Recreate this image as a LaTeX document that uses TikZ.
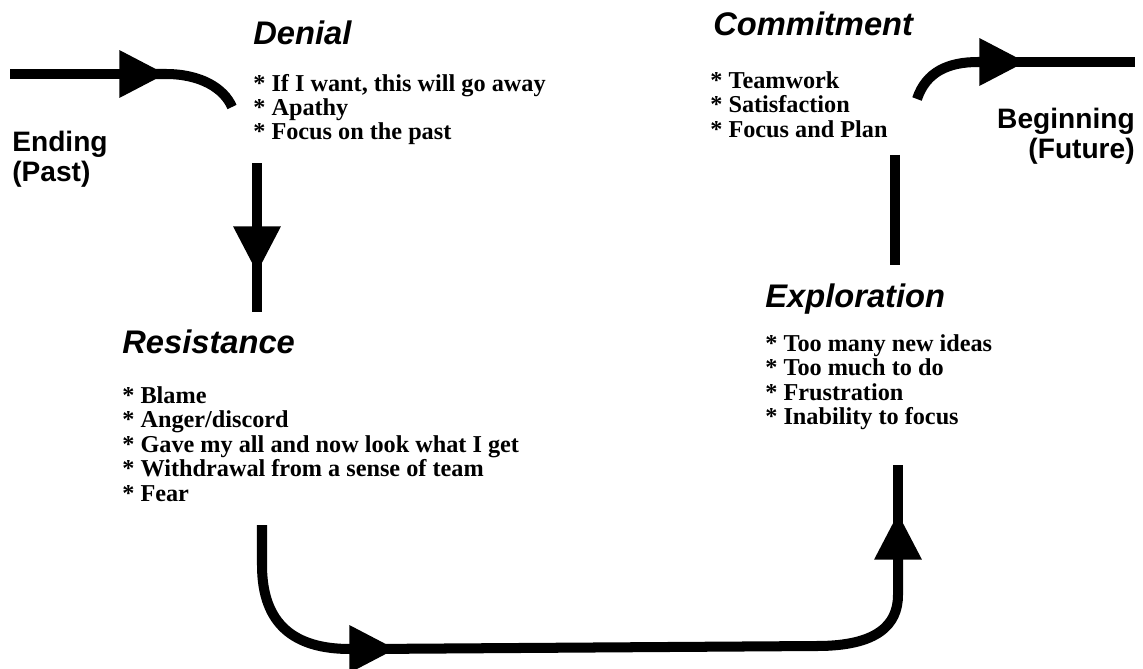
\documentclass[tikz,border=0pt]{standalone}
\usepackage{fontspec}
\setmainfont{Liberation Serif}
\setsansfont{Liberation Sans}
\usetikzlibrary{arrows.meta}

\begin{document}
\begin{tikzpicture}[x=0.02cm, y=-0.02cm]

\tikzset{stage/.style = {font=\sffamily\bfseries\itshape\fontsize{18.6}{20}\selectfont, anchor=base west, inner sep=0}}
\tikzset{items/.style = {font=\bfseries\fontsize{13.8}{14}\selectfont, align=left, anchor=north west, inner sep=0}}
\tikzset{time/.style = {font=\sffamily\bfseries\fontsize{16}{17}\selectfont, inner sep=0}}
\tikzset{flow/.style = {line width=5.7pt}}
\tikzset{pointed/.style = {flow, -{Triangle[length=26.5pt, width=25.5pt]}}}
\useasboundingbox (0,0) rectangle (1143,669);
%labels
\node[time, align=left, anchor=north west] (past) at (12,131) {Ending\\(Past)};
\node[time, align=right, anchor=north east] (future) at (1135,108) {Beginning\\(Future)};
\node[stage] (denial) at (253,45) {Denial};
\node[items, font=\bfseries\fontsize{13.8}{12.4}\selectfont] (denialList) at (253,74) {* If I want, this will go away\\* Apathy\\* Focus on the past};
\node[stage] (resistance) at (122,353) {Resistance};
\node[items] (resistanceList) at (122,386) {* Blame\\* Anger/discord\\* Gave my all and now look what I get\\* Withdrawal from a sense of team\\* Fear};
\node[stage] (exploration) at (765,307) {Exploration};
\node[items] (explorationList) at (765,334) {* Too many new ideas\\* Too much to do\\* Frustration\\* Inability to focus};
\node[stage] (commitment) at (713,36) {Commitment};
\node[items] (commitmentList) at (710,71) {* Teamwork\\* Satisfaction\\* Focus and Plan};
%points
\coordinate (a0) at (10,74);
\coordinate (a1) at (166,74);
\coordinate (a2) at (232,107);
\coordinate (b0) at (257,163);
\coordinate (b1) at (257,273);
\coordinate (b2) at (257,312);
\coordinate (c0) at (262,525);
\coordinate (c1) at (396,649);
\coordinate (c2) at (898,513);
\coordinate (c3) at (898,465);
\coordinate (d0) at (895,155);
\coordinate (d1) at (895,265);
\coordinate (e0) at (917,99);
\coordinate (e1) at (1026,62);
\coordinate (e2) at (1135,62);
%arrows
\draw[pointed] (a0) -- (a1);
\draw[flow] (140,74) -- (a1) .. controls (200,74) and (224,88) .. (a2);
\draw[pointed] (b0) -- (b1);
\draw[flow] (257,250) -- (b2);
\draw[pointed] (c0) -- (262,565) .. controls (262,625) and (295,649) .. (350,649) -- (c1);
\draw[pointed] (370,649) -- (817,646) .. controls (877,646) and (898,625) .. (898,595) -- (c2);
\draw[flow] (898,536) -- (c3);
\draw[flow] (d0) -- (d1);
\draw[pointed] (e0) .. controls (926,72) and (948,62) .. (978,62) -- (e1);
\draw[flow] (1000,62) -- (e2);

\end{tikzpicture}
\end{document}
